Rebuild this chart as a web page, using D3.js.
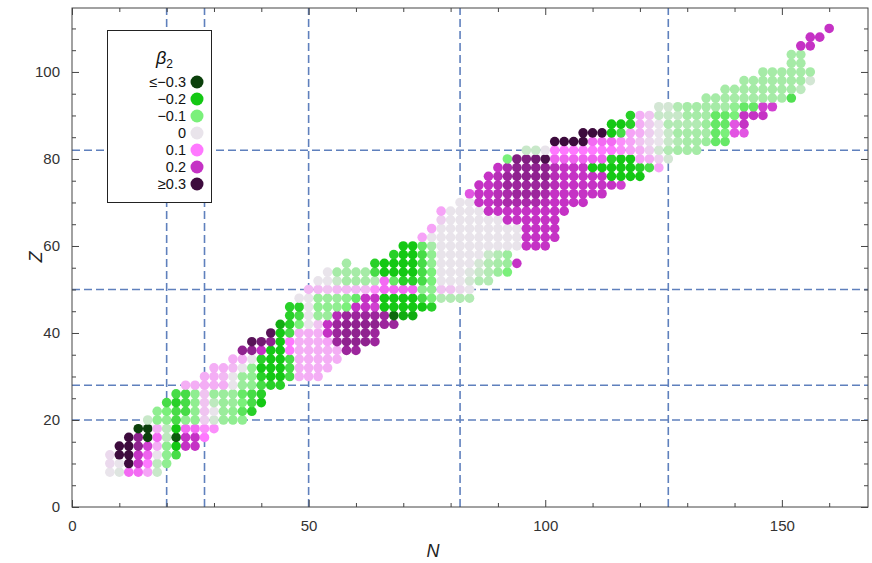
<!DOCTYPE html>
<html><head><meta charset="utf-8">
<script src="https://cdn.jsdelivr.net/npm/d3@7"></script>
<style>body{margin:0;background:#fff}svg{display:block}text{font-family:"Liberation Sans",Arial,sans-serif}</style>
</head><body><svg id="c" width="872" height="563"></svg>
<script>
// Proton number of each row (even-even nuclei)
const protonNumbers = [8,10,12,14,16,18,20,22,24,26,28,30,32,34,36,38,40,42,44,46,48,50,52,54,56,58,60,62,64,66,68,70,72,74,76,78,80,82,84,86,88,90,92,94,96,98,100,102,104,106,108,110];
// Neutron number of the first nucleus of each row (steps of 2 along the row)
const firstNeutron = [8,8,8,10,12,14,16,18,20,22,24,28,30,34,36,38,42,44,46,46,48,50,52,54,58,68,70,74,76,78,78,82,84,86,88,90,92,96,102,108,114,118,124,134,138,142,146,152,152,154,156,160];
// Quadrupole deformation beta2 along each row (null = no nucleus)
const beta2Rows = [
 [0.0,-0.01,0.12,0.12,0.06,-0.03],
 [0.01,0.0,0.3,0.2,0.1,-0.04,-0.08],
 [0.01,0.3,0.3,0.2,0.13,0.0,-0.08,-0.15],
 [0.32,0.3,0.24,0.18,0.05,-0.08,-0.2,0.2,0.2],
 [0.3,0.24,-0.3,0.12,-0.04,-0.28,0.2,0.2,0.1],
 [-0.3,-0.3,0.05,-0.04,-0.2,0.12,0.12,0.08,0.08],
 [-0.03,-0.08,-0.08,-0.15,-0.08,-0.08,0.02,-0.02,-0.07,-0.08,-0.08],
 [-0.08,-0.1,-0.15,-0.15,-0.08,0.03,0.0,-0.07,-0.08,-0.13,-0.18],
 [-0.15,-0.18,-0.15,-0.08,0.03,-0.04,-0.07,-0.07,-0.1,-0.15,-0.2],
 [-0.15,-0.15,-0.08,0.03,-0.07,-0.07,-0.07,-0.12,-0.15,-0.18],
 [0.05,0.05,0.05,0.05,0.05,0.0,-0.07,-0.08,-0.15,-0.18,-0.18],
 [0.05,0.05,0.04,0.0,-0.07,-0.08,-0.18,-0.2,-0.2,-0.15,0.05,0.05,0.05],
 [0.05,0.05,0.04,0.0,-0.08,-0.2,-0.2,-0.2,-0.15,0.05,0.05,0.05,0.05],
 [0.05,0.05,0.0,-0.18,-0.2,-0.2,-0.15,0.05,0.05,0.05,0.05,0.05],
 [0.24,0.24,0.2,-0.2,-0.2,0.1,0.05,0.05,0.05,0.05,0.05,0.23,0.23],
 [0.28,0.26,0.24,-0.2,0.1,0.05,0.05,0.05,0.06,0.23,0.24,0.24,0.24,0.23],
 [0.28,-0.2,-0.15,0.05,0.05,0.05,0.2,0.23,0.24,0.24,0.24,0.23],
 [-0.22,-0.18,-0.1,0.0,0.03,0.2,0.23,0.24,0.24,0.24,0.24,0.23,0.23],
 [-0.18,-0.15,0.0,-0.07,-0.07,0.21,0.23,0.23,0.23,0.23,0.23,-0.27,-0.22,-0.22],
 [-0.18,-0.18,0.0,-0.08,-0.08,-0.08,-0.1,0.2,0.2,0.18,-0.2,-0.2,-0.2,-0.2,-0.2,-0.18],
 [0.0,0.0,-0.07,-0.07,-0.07,-0.08,-0.12,0.2,0.2,-0.2,-0.2,-0.2,-0.2,-0.15,-0.1,-0.05,-0.05,-0.05,-0.05],
 [0.04,0.04,0.03,0.04,0.04,0.04,0.04,0.08,0.12,0.12,0.12,0.12,-0.08,-0.08,0.03,0.03,0.01,0.0],
 [0.0,0.0,-0.03,-0.06,-0.06,-0.06,-0.05,0.12,-0.12,-0.18,-0.18,-0.15,-0.1,0.0,0.0,0.0,-0.02,-0.05,-0.05],
 [0.0,-0.06,-0.06,-0.06,-0.06,-0.15,-0.2,-0.2,-0.2,-0.2,-0.15,-0.1,0.0,0.0,0.0,-0.01,-0.03,-0.05,-0.07,-0.1],
 [-0.06,null,null,-0.18,-0.2,-0.2,-0.2,-0.2,-0.15,-0.08,0.0,0.0,0.0,0.0,-0.02,-0.05,-0.06,-0.07,0.2],
 [-0.18,-0.2,-0.2,-0.15,-0.08,0.0,0.0,0.0,0.0,0.0,-0.03,-0.05,-0.07],
 [-0.2,-0.2,-0.12,-0.06,0.0,0.0,0.0,0.0,0.0,0.0,0.0,0.0,0.0,0.2,0.2,0.2],
 [0.06,0.0,0.0,0.0,0.0,0.0,0.0,0.0,0.0,0.0,0.0,0.2,0.2,0.2,0.2],
 [0.06,0.0,0.0,0.0,0.0,0.0,0.0,0.0,0.0,0.0,0.2,0.2,0.2,0.2],
 [0.02,0.0,0.0,0.0,0.0,0.0,0.0,0.2,0.2,0.2,0.2,0.2,0.2],
 [0.06,0.0,0.0,0.0,0.0,0.2,0.2,0.2,0.2,0.2,0.2,0.2,0.2,0.2],
 [0.0,0.0,0.2,0.2,0.21,0.22,0.22,0.22,0.22,0.21,0.2,0.2,0.2,0.2],
 [0.15,0.2,0.2,0.21,0.22,0.23,0.23,0.23,0.22,0.2,0.2,0.2,0.2,0.2,0.2],
 [0.2,0.2,0.21,0.23,0.23,0.23,0.23,0.23,0.21,0.2,0.2,0.2,0.2,0.2,0.2,0.18],
 [0.2,0.21,0.23,0.24,0.24,0.24,0.24,0.21,0.2,0.2,0.2,0.2,0.2,-0.2,-0.2,-0.2,-0.2],
 [0.2,0.22,0.24,0.24,0.24,0.24,0.21,0.2,0.2,0.2,-0.2,-0.2,-0.2,-0.2,-0.2,-0.18,-0.15,0.06],
 [-0.1,0.25,0.25,0.26,0.29,0.13,0.13,0.13,0.13,0.13,0.13,-0.18,-0.2,-0.2,0.06,0.05,0.02,-0.02],
 [-0.03,-0.03,0.0,0.1,0.1,0.1,0.1,0.1,0.1,0.1,0.08,0.06,0.05,0.02,-0.02,-0.05,-0.06,-0.06,-0.06],
 [0.3,0.3,0.3,0.3,0.12,0.12,0.12,0.08,0.06,0.03,0.01,0.0,-0.03,-0.05,-0.06,-0.06,-0.07,-0.12,-0.12],
 [0.3,0.3,0.3,-0.2,-0.15,0.06,0.05,0.02,0.0,-0.03,-0.06,-0.06,-0.06,-0.06,-0.12,-0.1,0.15,0.15],
 [-0.2,-0.2,-0.18,0.05,0.02,0.0,-0.05,-0.05,-0.05,-0.05,-0.07,-0.12,-0.12,0.15,0.2],
 [-0.18,0.05,0.03,-0.03,-0.03,-0.03,-0.06,-0.06,-0.06,-0.12,-0.12,-0.1,0.2,0.2,0.2],
 [-0.02,-0.02,-0.05,-0.06,-0.06,-0.06,-0.06,-0.06,-0.08,-0.12,-0.12,0.18,0.18],
 [-0.06,-0.06,-0.06,-0.06,-0.06,-0.06,-0.06,-0.06,-0.06,-0.14],
 [-0.06,-0.06,-0.06,-0.06,-0.06,-0.06,-0.06,-0.06,-0.04],
 [-0.06,-0.06,-0.06,-0.06,-0.06,-0.06,-0.06,-0.02],
 [-0.06,-0.06,-0.06,-0.06,-0.06,-0.06],
 [-0.06,-0.06],
 [-0.06,-0.06],
 [0.2,0.2],
 [0.2,0.2],
 [0.2]
];
const magicN = [20,28,50,82,126];
const magicZ = [20,28,50,82];
const legendValues = [-0.3,-0.2,-0.1,0,0.1,0.2,0.3];
const legendLabels = ["≤−0.3","−0.2","−0.1","0","0.1","0.2","≥0.3"];
const legendColors = ["#0b400b","#14c814","#7af07a","#e9e4eb","#ff78ff","#c532c5","#3d0b3d"];
const xTicks = [0,50,100,150];
const yTicks = [0,20,40,60,80,100];

const svg = d3.select("#c");
const x = d3.scaleLinear().domain([0,168.2]).range([72,868]);
const y = d3.scaleLinear().domain([0,114.7]).range([507,8]);
const color = d3.scaleLinear().domain(legendValues).range(legendColors).clamp(true);

// magic number lines
const lineColor = "#5f80bd";
svg.append("g").selectAll("line").data(magicN).join("line")
  .attr("x1",d=>x(d)).attr("x2",d=>x(d)).attr("y1",y(0)).attr("y2",y(114.7))
  .attr("stroke",lineColor).attr("stroke-width",1.6).attr("stroke-dasharray","8,4");
svg.append("g").selectAll("line").data(magicZ).join("line")
  .attr("y1",d=>y(d)).attr("y2",d=>y(d)).attr("x1",x(0)).attr("x2",x(168.2))
  .attr("stroke",lineColor).attr("stroke-width",1.6).attr("stroke-dasharray","8,4");

// nuclei
const pts = [];
protonNumbers.forEach((Z,i)=>{
  beta2Rows[i].forEach((b,j)=>{ if(b!==null) pts.push({N:firstNeutron[i]+2*j, Z, b}); });
});
svg.append("g").selectAll("circle").data(pts).join("circle")
  .attr("cx",d=>x(d.N)).attr("cy",d=>y(d.Z)).attr("r",4.8)
  .attr("fill",d=>color(d.b));

// frame and ticks
const tickColor = "#444";
function ticks(axisGen, tr){
  const g = svg.append("g").attr("transform",tr).call(axisGen);
  g.select(".domain").remove();
  g.selectAll("line").attr("stroke",tickColor);
  g.selectAll("text").attr("fill","#333").style("font-size","15px").style("font-family","Liberation Sans, Arial, sans-serif");
  return g;
}
const xMinor = d3.range(0,169,10), yMinor = d3.range(0,115,5);
ticks(d3.axisBottom(x).tickValues(xTicks).tickSize(-7).tickPadding(13), `translate(0,${y(0)})`);
ticks(d3.axisBottom(x).tickValues(xMinor.filter(v=>!xTicks.includes(v))).tickSize(-4).tickFormat(""), `translate(0,${y(0)})`);
ticks(d3.axisTop(x).tickValues(xTicks).tickSize(-7).tickFormat(""), `translate(0,${y(114.7)})`);
ticks(d3.axisTop(x).tickValues(xMinor.filter(v=>!xTicks.includes(v))).tickSize(-4).tickFormat(""), `translate(0,${y(114.7)})`);
ticks(d3.axisLeft(y).tickValues(yTicks).tickSize(-7).tickPadding(12), `translate(${x(0)},0)`);
ticks(d3.axisLeft(y).tickValues(yMinor.filter(v=>!yTicks.includes(v))).tickSize(-4).tickFormat(""), `translate(${x(0)},0)`);
ticks(d3.axisRight(y).tickValues(yTicks).tickSize(-7).tickFormat(""), `translate(${x(168.2)},0)`);
ticks(d3.axisRight(y).tickValues(yMinor.filter(v=>!yTicks.includes(v))).tickSize(-4).tickFormat(""), `translate(${x(168.2)},0)`);

svg.append("rect").attr("x",x(0)).attr("y",y(114.7)).attr("width",x(168.2)-x(0)).attr("height",y(0)-y(114.7))
  .attr("fill","none").attr("stroke",tickColor).attr("stroke-width",1);

// axis titles
svg.append("text").attr("x",433).attr("y",557).attr("text-anchor","middle")
  .style("font-size","18px").style("font-style","italic").attr("fill","#222").text("N");
svg.append("text").attr("transform","translate(42,257) rotate(-90)").attr("text-anchor","middle")
  .style("font-size","18px").style("font-style","italic").attr("fill","#222").text("Z");

// legend
const lg = svg.append("g");
lg.append("rect").attr("x",107.5).attr("y",30.5).attr("width",104).attr("height",172)
  .attr("fill","#fff").attr("stroke","#222").attr("stroke-width",1);
const title = lg.append("text").attr("x",156).attr("y",64).style("font-size","18px").attr("fill","#111");
title.append("tspan").style("font-style","italic").text("β");
title.append("tspan").attr("dy",4).style("font-size","12px").text("2");
const rows = lg.selectAll("g.row").data(legendValues).join("g").attr("class","row")
  .attr("transform",(d,i)=>`translate(0,${82+17*i})`);
rows.append("text").attr("x",186).attr("y",0).attr("dy","0.36em").attr("text-anchor","end")
  .style("font-size","14.5px").attr("fill","#111").text((d,i)=>legendLabels[i]);
rows.append("circle").attr("cx",197).attr("cy",0).attr("r",6.5).attr("fill",d=>color(d));
</script></body></html>
